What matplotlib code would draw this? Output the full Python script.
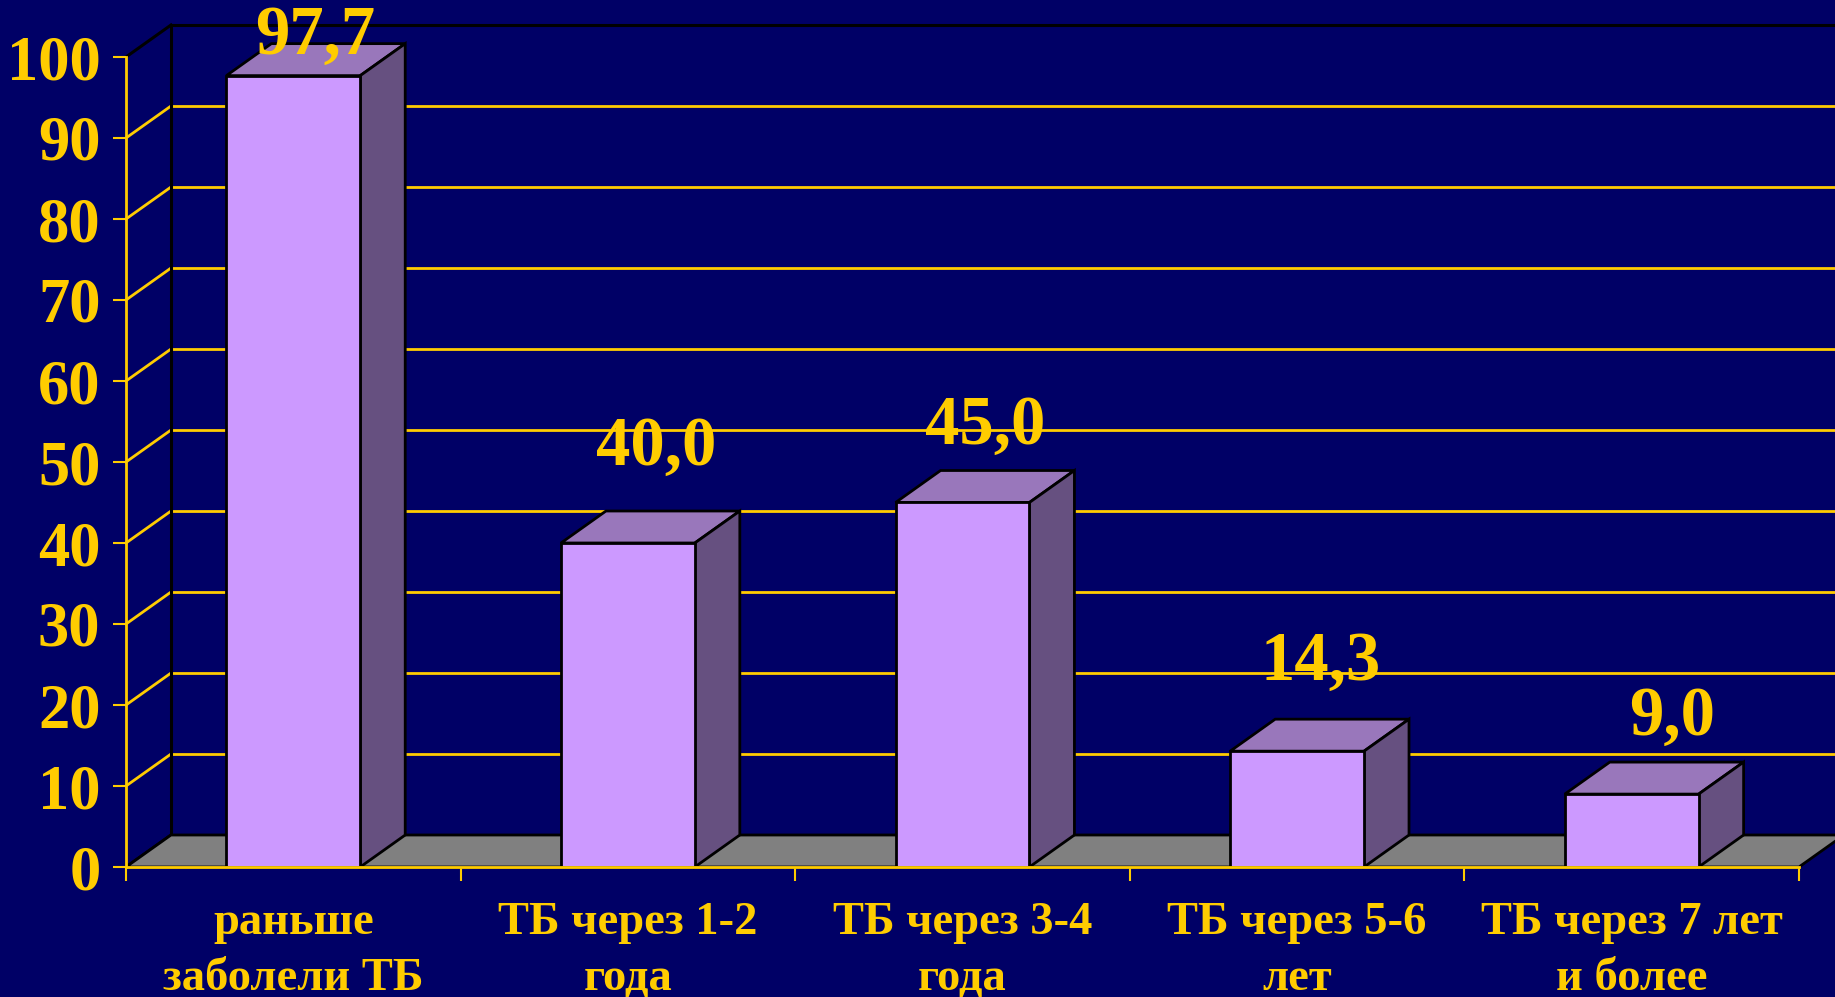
import matplotlib
matplotlib.use("Agg")
import matplotlib.pyplot as plt
from matplotlib.patches import Polygon
from matplotlib.lines import Line2D
from matplotlib.transforms import IdentityTransform

# data
categories = ["раньше\nзаболели ТБ", "ТБ через 1-2\nгода", "ТБ через 3-4\nгода",
              "ТБ через 5-6\nлет", "ТБ через 7 лет\nи более"]
values = [97.7, 40.0, 45.0, 14.3, 9.0]
value_labels = ["97,7", "40,0", "45,0", "14,3", "9,0"]
y_ticks = [0, 10, 20, 30, 40, 50, 60, 70, 80, 90, 100]

# style / layout
BG = "#000066"
GOLD = "#FFCC00"
FRONT = "#CC99FF"
TOP = "#9977BB"
SIDE = "#665080"
FLOOR = "#808080"
DX, DY = 45, 32          # depth of the fake 3D box, in pixels
label_dx = [22, 28, 23, 24, 40]   # label nudges (pixels), as on the slide
label_gap = [-10, 46, 27, 39, 27]

plt.rcParams["font.family"] = ["Liberation Serif", "DejaVu Serif"]
plt.rcParams["font.weight"] = "bold"

W, H = 1835, 997
fig = plt.figure(figsize=(W / 100, H / 100), dpi=100, facecolor=BG)
ax = fig.add_axes([126 / W, 130 / H, (1799 - 126) / W, (867 - 57) / H])
ax.set_xlim(0, len(values))
ax.set_ylim(0, 100)
ax.patch.set_visible(False)
for side in ["top", "right"]:
    ax.spines[side].set_visible(False)
for side in ["left", "bottom"]:
    ax.spines[side].set_color(GOLD)
    ax.spines[side].set_linewidth(2)
    ax.spines[side].set_zorder(6)

ident = IdentityTransform()


def disp(x, y, back=False):
    px, py = ax.transData.transform((x, y))
    if back:
        return (px + DX, py + DY)
    return (px, py)


# back wall grid + left wall diagonals
for v in y_ticks:
    col = "black" if v in (0, 100) else GOLD
    lw = 2.2 if v in (0, 100) else 2
    b = disp(0, v, back=True)
    ax.add_line(Line2D([b[0], W + 10], [b[1], b[1]], color=col, lw=lw,
                       transform=ident, clip_on=False, zorder=1))
    f = disp(0, v)
    ax.add_line(Line2D([f[0], b[0]], [f[1], b[1]], color=col, lw=lw,
                       transform=ident, clip_on=False, zorder=1))
b0, b1 = disp(0, 0, back=True), disp(0, 100, back=True)
ax.add_line(Line2D([b0[0], b1[0]], [b0[1], b1[1]], color="black", lw=2.2,
                   transform=ident, clip_on=False, zorder=1))

# floor
floor = Polygon([disp(0, 0), disp(0, 0, True), disp(len(values), 0, True), disp(len(values), 0)],
                closed=True, facecolor=FLOOR, edgecolor="black", lw=2,
                transform=ident, clip_on=False, zorder=2)
ax.add_patch(floor)

# bars
xs = [i + 0.5 for i in range(len(values))]
bars = ax.bar(xs, values, width=0.4, color=FRONT, edgecolor="black", linewidth=2, zorder=5)
for bar in bars:
    x0, x1 = bar.get_x(), bar.get_x() + bar.get_width()
    h = bar.get_height()
    top = Polygon([disp(x0, h), disp(x0, h, True), disp(x1, h, True), disp(x1, h)],
                  closed=True, facecolor=TOP, edgecolor="black", lw=2,
                  transform=ident, clip_on=False, zorder=4)
    sidep = Polygon([disp(x1, 0), disp(x1, h), disp(x1, h, True), disp(x1, 0, True)],
                    closed=True, facecolor=SIDE, edgecolor="black", lw=2,
                    transform=ident, clip_on=False, zorder=4)
    ax.add_patch(top)
    ax.add_patch(sidep)

# value labels
for x, v, lab, ddx, gap in zip(xs, values, value_labels, label_dx, label_gap):
    ax.annotate(lab, xy=(x, v), xytext=(ddx, DY + gap), textcoords="offset pixels",
                ha="center", va="baseline", fontsize=49.5, fontweight="bold",
                color=GOLD, zorder=7, annotation_clip=False)

# y axis
ax.set_yticks(y_ticks)
ax.set_yticklabels([str(t) for t in y_ticks])
ax.tick_params(axis="y", direction="out", length=9.4, width=1.5, color=GOLD,
               labelcolor=GOLD, labelsize=45, pad=9)

# x axis: boundary ticks, category labels below
ax.set_xticks(range(len(values) + 1))
ax.set_xticklabels([])
ax.tick_params(axis="x", direction="out", length=10, width=1.5, color=GOLD)
for x, cat in zip(xs, categories):
    ax.annotate(cat, xy=(x, 0), xytext=(0, -84), textcoords="offset pixels",
                ha="center", va="center", fontsize=33.5, fontweight="bold",
                color=GOLD, linespacing=1.45, annotation_clip=False)

fig.savefig("out.png", dpi=100, facecolor=BG)
